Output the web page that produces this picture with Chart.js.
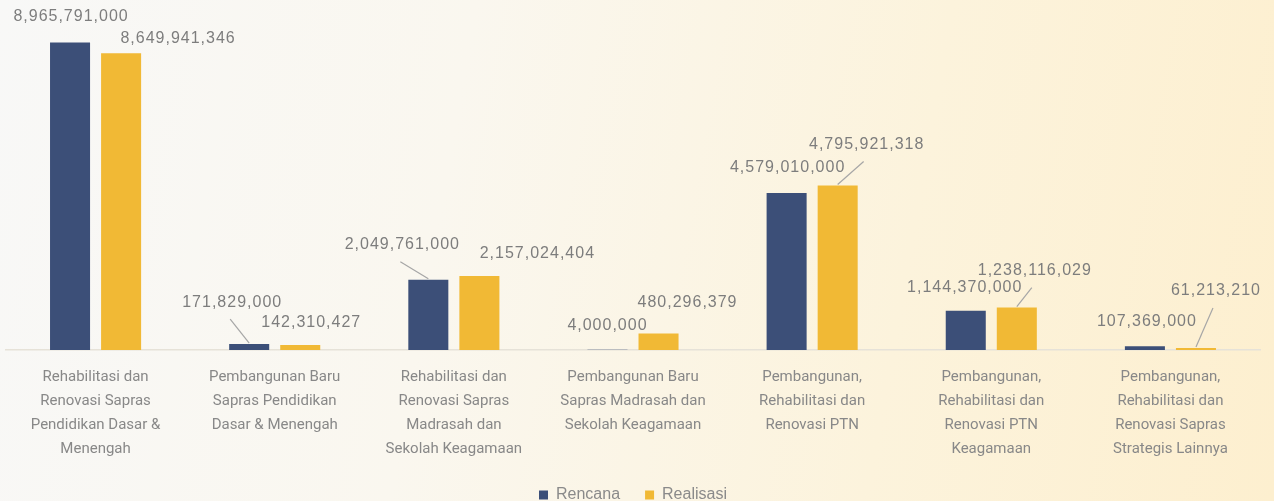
<!DOCTYPE html>
<html>
<head>
<meta charset="utf-8">
<script src="https://cdn.jsdelivr.net/npm/chart.js@4.4.1/dist/chart.umd.min.js"></script>
<style>
  html, body { margin: 0; padding: 0; }
  body {
    width: 1274px; height: 501px; overflow: hidden;
    background: linear-gradient(100deg, #f8f8f7 0%, #faf7ef 35%, #fcf3dc 70%, #fdefcf 100%);
  }
  #wrap { position: relative; width: 1274px; height: 501px; }
</style>
</head>
<body>
<div id="wrap"><canvas id="chart" width="1274" height="501"></canvas></div>
<script>
// --- DONNÉES ---
const categories = [
    ['Rehabilitasi dan', 'Renovasi Sapras', 'Pendidikan Dasar &', 'Menengah'],
    ['Pembangunan Baru', 'Sapras Pendidikan', 'Dasar & Menengah'],
    ['Rehabilitasi dan', 'Renovasi Sapras', 'Madrasah dan', 'Sekolah Keagamaan'],
    ['Pembangunan Baru', 'Sapras Madrasah dan', 'Sekolah Keagamaan'],
    ['Pembangunan,', 'Rehabilitasi dan', 'Renovasi PTN'],
    ['Pembangunan,', 'Rehabilitasi dan', 'Renovasi PTN', 'Keagamaan'],
    ['Pembangunan,', 'Rehabilitasi dan', 'Renovasi Sapras', 'Strategis Lainnya']
];
const rencana = [8965791000, 171829000, 2049761000, 4000000, 4579010000, 1144370000, 107369000];
const realisasi = [8649941346, 142310427, 2157024404, 480296379, 4795921318, 1238116029, 61213210];

const NAVY = '#3c4f78';
const GOLD = '#f1b935';

// décalage des étiquettes par rapport au haut de la barre [dx, dy, trait?]
const labelOffsets = [
    [[1, -26, 0], [-17, -42, 1], [-26, -35, 1], [0, -24, 0], [1, -25, 0], [-1, -23, 0], [2, -25, 0]],
    [[57, -15, 0], [11, -23, 0], [58, -22, 0], [29, -31, 0], [29, -41, 1], [18, -37, 1], [20, -57, 1]]
];

const fmt = v => v.toLocaleString('en-US');

// --- ÉTIQUETTES + TRAITS ---
const valueLabels = {
    id: 'valueLabels',
    afterDatasetsDraw(chart) {
        const ctx = chart.ctx;
        ctx.save();
        ctx.font = '16px "Liberation Sans", Arial, sans-serif';
        ctx.letterSpacing = '1px';
        ctx.textAlign = 'center';
        ctx.textBaseline = 'middle';
        chart.data.datasets.forEach((ds, i) => {
            const meta = chart.getDatasetMeta(i);
            meta.data.forEach((bar, j) => {
                const [dx, dy, line] = labelOffsets[i][j];
                const tx = bar.x + dx, ty = bar.y + dy;
                if (line) {
                    // le trait part sous le texte vers le haut de la barre
                    const sx = dx < 0 ? tx - 2 : tx - 3;
                    ctx.strokeStyle = '#a6a6a6';
                    ctx.lineWidth = 1.2;
                    ctx.beginPath();
                    ctx.moveTo(sx, ty + 17);
                    ctx.lineTo(bar.x, bar.y - 1);
                    ctx.stroke();
                }
                ctx.fillStyle = '#7d7d7d';
                ctx.fillText(fmt(ds.data[j]), tx, ty);
            });
        });
        ctx.restore();
    }
};

const ctx = document.getElementById('chart').getContext('2d');
new Chart(ctx, {
    type: 'bar',
    data: {
        labels: categories,
        datasets: [
            { label: 'Rencana', data: rencana, backgroundColor: NAVY },
            { label: 'Realisasi', data: realisasi, backgroundColor: GOLD }
        ]
    },
    options: {
        responsive: false,
        animation: false,
        devicePixelRatio: 1,
        categoryPercentage: 0.57,
        barPercentage: 0.784,
        layout: { padding: { top: 7, left: 6, right: 14, bottom: -12 } },
        plugins: {
            legend: {
                position: 'bottom',
                labels: {
                    boxWidth: 9, boxHeight: 9, padding: 25,
                    color: '#8a8a8a',
                    font: { size: 16, family: '"Liberation Sans", Arial, sans-serif' }
                }
            },
            tooltip: { enabled: false }
        },
        scales: {
            x: {
                grid: { display: false, drawTicks: false },
                border: { display: true, color: '#e6e2d8', width: 1.5 },
                ticks: {
                    padding: 15,
                    color: '#888888',
                    maxRotation: 0, autoSkip: false,
                    font: { size: 15, family: 'Roboto, "Liberation Sans", sans-serif', lineHeight: 1.6 }
                },
                afterFit: s => { s.height = 112; }
            },
            y: { display: false, min: 0, max: 1e10 }
        }
    },
    plugins: [valueLabels]
});
</script>
</body>
</html>
